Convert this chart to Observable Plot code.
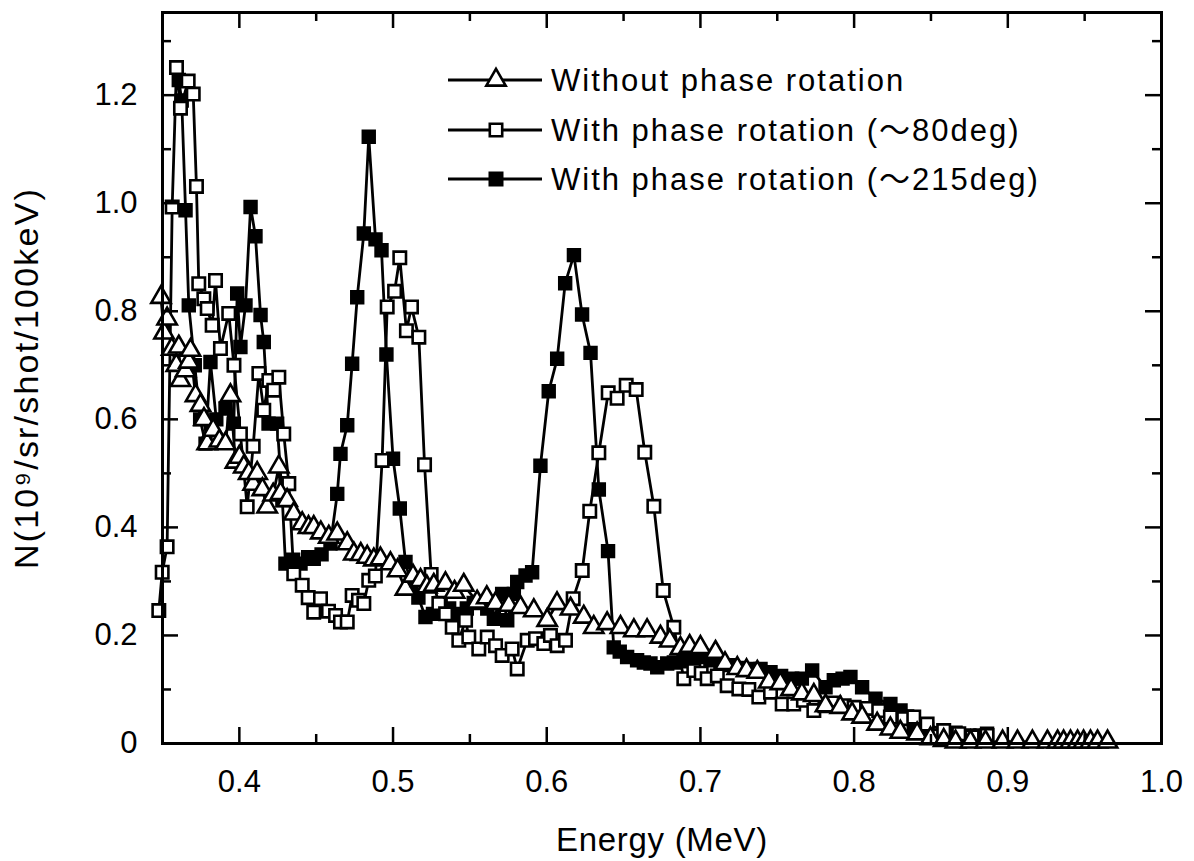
<!DOCTYPE html>
<html><head><meta charset="utf-8">
<script src="https://cdn.jsdelivr.net/npm/d3@7"></script>
<script src="https://cdn.jsdelivr.net/npm/@observablehq/plot@0.6"></script>
<style>body{margin:0;background:#fff}</style>
</head><body><div id="chart"></div>
<script>
// Series labels
const seriesLabels = ["Without phase rotation", "With phase rotation (～80deg)", "With phase rotation (～215deg)"];
const xLabel = "Energy (MeV)";
const yLabel = "N(10⁹/sr/shot/100keV)";

// Without phase rotation (open triangles)
const energyNone = [0.349,0.351,0.353,0.356,0.359,0.3606,0.3617,0.365,0.3671,0.3682,0.3715,0.3747,0.377,0.3791,0.383,0.387,0.391,0.3942,0.3975,0.4,0.4029,0.4061,0.409,0.4116,0.415,0.4181,0.422,0.4257,0.4268,0.4311,0.4354,0.4409,0.445,0.4484,0.453,0.4582,0.4637,0.4702,0.4745,0.479,0.4832,0.4875,0.4918,0.4983,0.503,0.5081,0.513,0.5179,0.522,0.5265,0.5341,0.54,0.546,0.5547,0.561,0.5667,0.5753,0.5829,0.5916,0.6003,0.6067,0.6155,0.6241,0.6306,0.6393,0.648,0.6567,0.6653,0.674,0.68,0.687,0.693,0.7,0.7098,0.716,0.724,0.73,0.737,0.7445,0.752,0.759,0.766,0.7738,0.7814,0.791,0.7987,0.8052,0.815,0.8236,0.8301,0.841,0.8497,0.8583,0.866,0.8757,0.8855,0.8966,0.9063,0.916,0.9258,0.9324,0.9363,0.9408,0.9454,0.9493,0.9538,0.9584,0.9649];
const countsNone = [0.826,0.76,0.786,0.73,0.7,0.734,0.672,0.69,0.706,0.728,0.644,0.626,0.6,0.555,0.58,0.56,0.555,0.644,0.521,0.53,0.512,0.5,0.48,0.5,0.47,0.438,0.46,0.512,0.463,0.45,0.425,0.407,0.4,0.4,0.39,0.382,0.388,0.37,0.351,0.35,0.345,0.34,0.342,0.333,0.32,0.286,0.31,0.302,0.29,0.293,0.296,0.28,0.293,0.262,0.27,0.259,0.256,0.252,0.246,0.228,0.259,0.249,0.234,0.215,0.222,0.215,0.209,0.209,0.197,0.19,0.176,0.18,0.178,0.169,0.148,0.139,0.135,0.132,0.114,0.111,0.1,0.092,0.089,0.07,0.067,0.055,0.049,0.036,0.027,0.021,0.018,0.009,0.006,0.003,0.003,0.003,0.003,0.003,0.003,0.003,0.003,0.003,0.003,0.003,0.003,0.003,0.003,0.003];

// With phase rotation ~80deg (open squares)
const energy80 = [0.3476,0.3498,0.353,0.3563,0.3591,0.3617,0.3667,0.37,0.3721,0.3736,0.3769,0.3791,0.3823,0.3845,0.3877,0.3931,0.3965,0.4007,0.4051,0.409,0.4127,0.4159,0.4192,0.4224,0.4257,0.4289,0.4322,0.4354,0.4409,0.4448,0.4484,0.4528,0.458,0.4626,0.4658,0.4702,0.4734,0.4775,0.481,0.4842,0.4885,0.4929,0.4962,0.501,0.5044,0.5087,0.512,0.5168,0.5205,0.5248,0.5298,0.5342,0.5385,0.5428,0.5472,0.5493,0.5558,0.5613,0.5667,0.571,0.5775,0.5808,0.5873,0.5927,0.5981,0.6024,0.6068,0.6122,0.6172,0.6231,0.628,0.6339,0.64,0.6458,0.6517,0.6582,0.6638,0.6697,0.6758,0.6827,0.6892,0.6957,0.7005,0.7044,0.711,0.7174,0.725,0.7315,0.738,0.7456,0.7532,0.7607,0.767,0.7738,0.781,0.787,0.7935,0.8,0.8085,0.816,0.8236,0.8323,0.8388,0.8475,0.8583,0.8681,0.8768,0.8865];
const counts80 = [0.246,0.317,0.364,0.993,1.251,1.176,1.226,1.202,1.031,0.851,0.823,0.805,0.774,0.857,0.731,0.796,0.7,0.573,0.438,0.55,0.685,0.617,0.672,0.654,0.678,0.573,0.481,0.314,0.293,0.27,0.243,0.268,0.245,0.237,0.225,0.225,0.274,0.265,0.259,0.302,0.31,0.524,0.808,0.837,0.899,0.764,0.808,0.752,0.516,0.313,0.259,0.24,0.215,0.191,0.228,0.197,0.175,0.197,0.181,0.163,0.175,0.138,0.191,0.194,0.185,0.2,0.181,0.191,0.268,0.32,0.43,0.538,0.649,0.639,0.663,0.655,0.539,0.439,0.283,0.215,0.12,0.135,0.13,0.12,0.125,0.107,0.101,0.1,0.086,0.095,0.073,0.073,0.08,0.061,0.07,0.075,0.07,0.067,0.065,0.061,0.049,0.046,0.049,0.036,0.024,0.018,0.012,0.015];

// With phase rotation ~215deg (filled squares)
const energy215 = [0.3606,0.3625,0.365,0.3671,0.371,0.3745,0.378,0.3812,0.385,0.391,0.3964,0.3986,0.4007,0.404,0.4073,0.4105,0.4138,0.4159,0.419,0.4246,0.428,0.43,0.435,0.4398,0.4448,0.4484,0.4535,0.4593,0.4637,0.4658,0.4702,0.4734,0.4767,0.481,0.4842,0.4886,0.4925,0.4957,0.5,0.5044,0.5081,0.512,0.5165,0.5211,0.526,0.531,0.5365,0.542,0.548,0.5525,0.5569,0.5613,0.5656,0.571,0.5743,0.5786,0.5808,0.5862,0.5905,0.5959,0.6013,0.6068,0.612,0.6177,0.623,0.6285,0.6339,0.6399,0.6436,0.6475,0.6523,0.6588,0.6632,0.6675,0.6719,0.6784,0.6827,0.689,0.6957,0.7005,0.7065,0.713,0.72,0.7262,0.7325,0.7391,0.7456,0.7525,0.7597,0.766,0.7727,0.7814,0.7868,0.7925,0.7976,0.8052,0.8139,0.8236,0.8302,0.8345,0.8388,0.8475,0.8583,0.866,0.875,0.8822,0.8865];
const counts215 = [1.228,1.19,0.987,0.811,0.7,0.6,0.555,0.706,0.6,0.62,0.592,0.833,0.734,0.811,0.993,0.939,0.793,0.743,0.592,0.592,0.45,0.333,0.34,0.333,0.345,0.342,0.35,0.37,0.462,0.536,0.589,0.703,0.826,0.944,1.123,0.933,0.913,0.72,0.527,0.435,0.336,0.29,0.27,0.234,0.24,0.26,0.25,0.24,0.25,0.26,0.262,0.25,0.231,0.277,0.228,0.277,0.299,0.311,0.317,0.514,0.652,0.712,0.852,0.904,0.794,0.723,0.47,0.356,0.178,0.17,0.16,0.154,0.15,0.148,0.141,0.148,0.15,0.152,0.154,0.16,0.154,0.15,0.145,0.14,0.138,0.138,0.132,0.125,0.12,0.12,0.135,0.104,0.117,0.12,0.123,0.104,0.083,0.073,0.061,0.05,0.033,0.027,0.024,0.02,0.015,0.015,0.018];

// Axis ticks
const xMajorTicks = [0.4,0.5,0.6,0.7,0.8,0.9,1.0];
const xMinorTicks = [0.45,0.55,0.65,0.75,0.85,0.95];
const yMajorTicks = [0,0.2,0.4,0.6,0.8,1.0,1.2];
const yMinorTicks = [0.1,0.3,0.5,0.7,0.9,1.1,1.3];

const rows = (E, N) => E.map((e, i) => ({E: e, N: N[i]}));
const dNone = rows(energyNone, countsNone);
const d80 = rows(energy80, counts80);
const d215 = rows(energy215, counts215);

const W = 1194, H = 861;
const mL = 162, mR = 33, mT = 12, mB = 118;
const plotW = W - mL - mR, plotH = H - mT - mB;
const FONT = "Liberation Sans, Arial, sans-serif";
const LW = 2.8;

const chart = Plot.plot({
  width: W, height: H,
  marginLeft: mL, marginRight: mR, marginTop: mT, marginBottom: mB,
  style: {fontFamily: FONT, color: "black", background: "white"},
  x: {domain: [0.35, 1.0]},
  y: {domain: [0, 1.353]},
  marks: [
    Plot.line(d215, {x: "E", y: "N", stroke: "black", strokeWidth: LW}),
    Plot.dot(d215, {x: "E", y: "N", symbol: "square", r: 7, fill: "black", stroke: "black", strokeWidth: 2}),
    Plot.line(d80, {x: "E", y: "N", stroke: "black", strokeWidth: LW}),
    Plot.dot(d80, {x: "E", y: "N", symbol: "square", r: 7, fill: "white", stroke: "black", strokeWidth: 2.6}),
    Plot.line(dNone, {x: "E", y: "N", stroke: "black", strokeWidth: LW}),
    Plot.dot(dNone, {x: "E", y: "N", symbol: "triangle", r: 7.2, fill: "white", stroke: "black", strokeWidth: 2.6}),
    // inward ticks on all four sides
    Plot.tickX(xMajorTicks, {x: d => d, stroke: "black", strokeWidth: 2.5, insetTop: plotH - 16}),
    Plot.tickX(xMinorTicks, {x: d => d, stroke: "black", strokeWidth: 2.5, insetTop: plotH - 9}),
    Plot.tickX(xMajorTicks, {x: d => d, stroke: "black", strokeWidth: 2.5, insetBottom: plotH - 16}),
    Plot.tickX(xMinorTicks, {x: d => d, stroke: "black", strokeWidth: 2.5, insetBottom: plotH - 9}),
    Plot.tickY(yMajorTicks, {y: d => d, stroke: "black", strokeWidth: 2.5, insetRight: plotW - 16}),
    Plot.tickY(yMinorTicks, {y: d => d, stroke: "black", strokeWidth: 2.5, insetRight: plotW - 9}),
    Plot.tickY(yMajorTicks, {y: d => d, stroke: "black", strokeWidth: 2.5, insetLeft: plotW - 16}),
    Plot.tickY(yMinorTicks, {y: d => d, stroke: "black", strokeWidth: 2.5, insetLeft: plotW - 9}),
    Plot.frame({stroke: "black", strokeWidth: 3}),
    Plot.axisX(xMajorTicks, {tickSize: 0, tickPadding: 26, fontSize: 31, label: null, tickFormat: d => d.toFixed(1)}),
    Plot.axisY(yMajorTicks, {tickSize: 0, tickPadding: 25, fontSize: 31, label: null, tickFormat: d => d === 0 ? "0" : d.toFixed(1)}),
    Plot.text([xLabel], {frameAnchor: "bottom", dy: 97, lineAnchor: "middle", textAnchor: "middle", fontSize: 33, fill: "black"}),
    Plot.text([yLabel], {frameAnchor: "left", dx: -135, rotate: -90, lineAnchor: "middle", textAnchor: "middle", fontSize: 34, fill: "black"})
  ]
});

const svg = d3.select(chart);
// letter spacing for the axis titles
svg.selectAll("text").filter(function() { return this.textContent === yLabel; }).attr("letter-spacing", 2.2);
svg.selectAll("text").filter(function() { return this.textContent === xLabel; }).attr("letter-spacing", 0.7);

// Legend (inside the plot area, top)
const leg = svg.append("g").attr("font-family", FONT).attr("font-size", 31).attr("text-anchor", "start");
const legendSymbols = [
  {sym: d3.symbolTriangle, r: 7.2, fill: "white"},
  {sym: d3.symbolSquare, r: 7, fill: "white"},
  {sym: d3.symbolSquare, r: 7, fill: "black"}
];
const legY = [80, 130, 179];
seriesLabels.forEach((label, i) => {
  const y = legY[i];
  leg.append("line").attr("x1", 448).attr("x2", 542).attr("y1", y).attr("y2", y)
    .attr("stroke", "black").attr("stroke-width", LW);
  const s = legendSymbols[i];
  leg.append("path").attr("d", d3.symbol(s.sym, Math.PI * s.r * s.r)())
    .attr("transform", `translate(496,${y})`)
    .attr("fill", s.fill).attr("stroke", "black").attr("stroke-width", 2.6);
  const t = leg.append("text").attr("x", 551).attr("y", y).attr("dy", "0.35em")
    .attr("text-anchor", "start").attr("letter-spacing", 2).attr("fill", "black");
  label.split(/(～)/).forEach(part => {
    if (!part) return;
    const ts = t.append("tspan").text(part);
    if (part === "～") ts.attr("font-family", "Noto Sans CJK JP");
  });
});

document.getElementById("chart").appendChild(chart);
</script>
</body></html>
